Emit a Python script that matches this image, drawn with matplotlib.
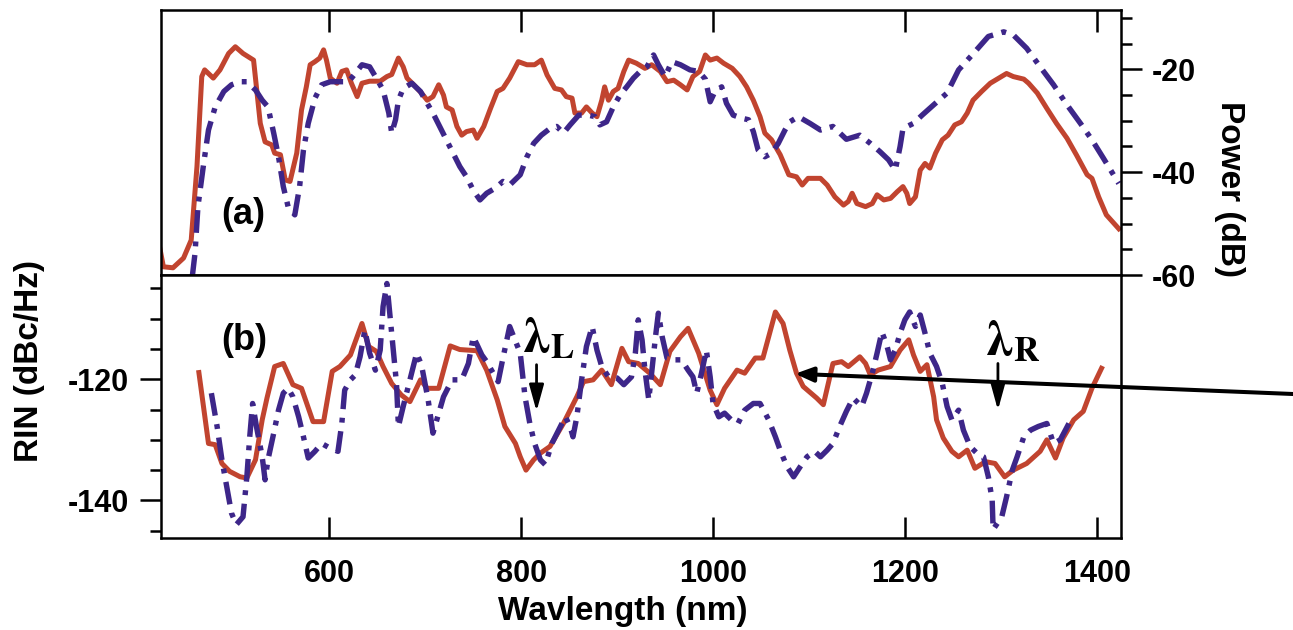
import matplotlib.pyplot as plt
from matplotlib.ticker import MultipleLocator

# (a) optical power spectra
wl_a_red = [423, 427, 437, 448, 456, 462, 467, 470, 479, 486, 495, 502, 510, 521, 524, 528,
            533, 540, 543, 549, 554, 559, 566, 571, 576, 580, 585, 590, 594, 597, 601, 608,
            613, 618, 623, 629, 634, 642, 653, 660, 665, 672, 677, 681, 688, 696, 702, 708,
            714, 719, 722, 728, 733, 738, 743, 750, 754, 761, 768, 775, 781, 788, 797, 806,
            814, 821, 827, 835, 842, 847, 853, 856, 863, 868, 874, 879, 884, 887, 891, 896,
            901, 907, 912, 920, 929, 936, 945, 952, 959, 966, 973, 979, 986, 992, 997, 1004,
            1011, 1020, 1028, 1035, 1042, 1049, 1054, 1061, 1070, 1079, 1087, 1093, 1099, 1112,
            1119, 1127, 1136, 1141, 1145, 1150, 1159, 1166, 1171, 1178, 1185, 1192, 1198, 1202,
            1205, 1211, 1216, 1221, 1226, 1232, 1239, 1245, 1252, 1259, 1265, 1271, 1280, 1289,
            1298, 1306, 1313, 1324, 1329, 1338, 1348, 1358, 1369, 1379, 1390, 1395, 1402, 1410,
            1423]
pow_a_red = [-54.5, -58.4, -58.6, -56.7, -53.2, -38.9, -21.4, -20.1, -21.7, -20.1, -16.9, -15.6,
             -16.9, -18.2, -23.4, -30.5, -34.1, -34.7, -36.3, -36.6, -41.5, -41.8, -36.3, -27.9,
             -23.4, -19.1, -18.5, -17.8, -16.2, -18.2, -21.7, -22.7, -20.4, -20.1, -22.7, -25.3,
             -22.7, -22.3, -22.3, -21.4, -21.0, -17.8, -19.5, -21.7, -23.0, -24.6, -26.0, -25.3,
             -23.0, -25.0, -27.3, -27.9, -31.1, -32.8, -32.1, -31.8, -33.4, -31.1, -27.6, -24.3,
             -23.7, -21.7, -18.5, -19.1, -19.1, -18.2, -21.1, -23.7, -24.0, -25.3, -25.6, -28.5,
             -28.5, -27.3, -28.5, -29.2, -26.0, -23.4, -26.0, -24.3, -23.7, -20.4, -18.2, -18.8,
             -19.8, -19.1, -20.4, -22.4, -22.1, -23.0, -24.0, -21.4, -20.4, -17.2, -18.2, -17.8,
             -18.8, -19.8, -21.4, -23.4, -26.0, -29.2, -32.4, -33.7, -36.6, -40.5, -40.9, -42.5,
             -41.2, -41.2, -42.5, -44.8, -46.4, -45.7, -44.1, -46.1, -46.7, -46.1, -44.4, -45.4,
             -45.1, -43.8, -42.8, -44.1, -46.1, -44.8, -39.6, -38.3, -39.2, -36.3, -33.7, -32.8,
             -30.8, -30.2, -28.5, -26.0, -24.3, -22.7, -21.7, -20.8, -21.4, -21.9, -22.7, -24.6,
             -27.6, -30.5, -33.4, -36.7, -40.5, -41.2, -44.8, -48.3, -51.0]

wl_a_blue = [457, 460, 463, 469, 474, 481, 490, 498, 507, 514, 523, 530, 536, 542, 547, 552,
             557, 564, 569, 573, 578, 585, 592, 601, 611, 620, 627, 634, 642, 649, 656, 662,
             665, 669, 672, 677, 686, 695, 702, 708, 715, 722, 729, 736, 743, 750, 757, 764,
             773, 781, 788, 799, 806, 813, 821, 830, 837, 844, 851, 860, 870, 877, 882, 889,
             896, 903, 910, 917, 924, 931, 938, 943, 950, 957, 966, 976, 985, 992, 997, 1002,
             1009, 1014, 1021, 1030, 1037, 1042, 1047, 1054, 1061, 1068, 1075, 1080, 1089, 1101,
             1112, 1125, 1139, 1153, 1164, 1174, 1183, 1190, 1195, 1198, 1209, 1218, 1230, 1244,
             1256, 1270, 1287, 1303, 1313, 1327, 1341, 1355, 1369, 1383, 1395, 1407, 1423]
pow_a_blue = [-60.5, -55.7, -46.7, -38.3, -31.8, -27.3, -24.3, -23.0, -22.4, -22.4, -24.0, -26.0,
              -27.3, -32.4, -37.0, -42.8, -46.7, -48.3, -42.8, -35.7, -30.5, -25.6, -23.0, -22.4,
              -22.4, -22.4, -20.8, -19.1, -19.5, -21.7, -24.0, -28.5, -32.4, -29.8, -26.0, -23.7,
              -22.7, -24.3, -26.6, -28.5, -31.1, -33.7, -36.3, -38.9, -40.9, -43.5, -45.4, -44.1,
              -43.1, -41.8, -42.5, -40.5, -37.0, -34.4, -32.8, -31.5, -31.1, -32.4, -30.8, -28.9,
              -28.9, -29.2, -30.8, -30.2, -27.3, -25.0, -23.4, -21.7, -20.4, -19.5, -17.2, -19.1,
              -21.4, -18.5, -19.1, -20.1, -20.4, -21.9, -26.3, -24.3, -23.4, -26.6, -28.9, -29.5,
              -29.8, -32.1, -35.7, -37.0, -36.3, -34.4, -31.8, -30.2, -29.2, -30.5, -31.8, -31.1,
              -33.6, -32.8, -34.4, -36.0, -37.6, -39.6, -35.0, -31.5, -30.5, -28.9, -26.9, -24.6,
              -20.1, -17.2, -13.6, -12.7, -13.3, -15.9, -19.5, -23.0, -26.9, -30.5, -33.7, -37.3,
              -42.2]

# (b) relative intensity noise
wl_b_red = [464, 474, 481, 488, 496, 507, 514, 523, 530, 535, 543, 552, 562, 571, 583, 594,
            603, 611, 622, 634, 641, 649, 656, 665, 675, 684, 695, 702, 714, 726, 736, 754,
            764, 775, 783, 794, 799, 805, 813, 820, 830, 844, 858, 865, 875, 884, 894, 905,
            912, 922, 934, 945, 955, 966, 974, 985, 997, 1004, 1012, 1025, 1033, 1044, 1052,
            1058, 1065, 1073, 1080, 1087, 1094, 1108, 1115, 1125, 1134, 1141, 1153, 1159, 1164,
            1172, 1185, 1195, 1204, 1209, 1216, 1223, 1230, 1233, 1240, 1249, 1256, 1265, 1273,
            1284, 1294, 1304, 1313, 1327, 1341, 1348, 1357, 1365, 1376, 1386, 1395, 1405]
rin_b_red = [-118.9, -130.6, -130.8, -133.9, -135.2, -136.1, -136.3, -133.3, -126.7, -123.1,
             -117.9, -117.4, -120.9, -121.5, -127.0, -127.0, -118.7, -117.9, -116.0, -110.8,
             -114.6, -115.4, -117.9, -120.7, -122.6, -123.7, -120.1, -121.5, -121.5, -114.5,
             -115.1, -115.3, -118.5, -123.4, -127.8, -130.6, -132.8, -135.0, -133.3, -132.2,
             -131.1, -127.3, -122.9, -120.4, -120.1, -118.5, -120.9, -114.9, -117.1, -117.4,
             -119.0, -120.9, -115.4, -113.0, -111.6, -115.7, -121.8, -124.2, -121.5, -118.5,
             -119.0, -116.5, -116.5, -113.0, -108.9, -110.8, -115.2, -119.0, -121.2, -123.1,
             -124.2, -117.4, -117.1, -117.9, -116.3, -117.4, -119.3, -118.5, -117.9, -115.2,
             -113.5, -116.0, -118.7, -117.6, -122.9, -126.7, -129.7, -131.9, -132.8, -131.7,
             -134.7, -133.6, -133.9, -136.1, -135.0, -133.9, -131.9, -130.0, -133.0, -129.7,
             -126.7, -125.3, -121.5, -118.2]

wl_b_blue = [477, 483, 488, 493, 498, 503, 510, 514, 517, 520, 524, 530, 533, 536, 542, 547,
             552, 557, 562, 568, 573, 578, 585, 592, 601, 609, 613, 616, 622, 627, 632, 637,
             642, 648, 653, 656, 660, 663, 666, 670, 672, 677, 684, 691, 696, 703, 708, 714,
             719, 728, 738, 745, 750, 754, 759, 764, 769, 776, 781, 788, 795, 799, 804, 809,
             814, 820, 825, 832, 839, 846, 851, 854, 858, 863, 868, 874, 879, 884, 891, 900,
             907, 915, 919, 922, 926, 929, 933, 936, 940, 943, 947, 952, 959, 967, 974, 979,
             983, 988, 993, 997, 1000, 1006, 1012, 1019, 1026, 1033, 1042, 1049, 1058, 1065,
             1070, 1077, 1084, 1091, 1098, 1106, 1112, 1119, 1125, 1132, 1139, 1146, 1155, 1160,
             1166, 1171, 1176, 1181, 1185, 1190, 1195, 1200, 1205, 1211, 1216, 1221, 1226, 1233,
             1239, 1244, 1249, 1256, 1261, 1268, 1275, 1282, 1287, 1291, 1292, 1301, 1306, 1312,
             1317, 1324, 1331, 1339, 1348, 1355, 1362, 1371]
rin_b_blue = [-122.3, -127.8, -133.3, -137.7, -142.1, -144.0, -142.7, -136.1, -129.5, -124.0,
              -127.8, -132.8, -136.6, -133.3, -128.9, -125.1, -122.3, -121.5, -122.9, -126.2,
              -129.5, -133.0, -131.9, -130.6, -131.4, -131.9, -127.3, -121.8, -120.1, -119.3,
              -116.3, -111.9, -115.7, -118.5, -115.2, -108.0, -104.2, -109.1, -114.1, -120.7,
              -127.8, -124.5, -120.1, -115.7, -117.6, -123.4, -128.9, -125.6, -122.9, -120.1,
              -120.1, -117.4, -113.0, -114.3, -116.0, -117.1, -118.5, -120.4, -116.5, -111.3,
              -114.1, -115.7, -122.9, -127.3, -130.6, -133.3, -134.1, -130.6, -128.4, -126.2,
              -127.8, -129.5, -126.2, -120.1, -114.6, -111.3, -115.2, -117.9, -119.6, -119.8,
              -120.9, -119.6, -115.7, -110.2, -113.5, -118.5, -123.4, -119.0, -113.0, -109.1,
              -113.0, -116.5, -116.8, -116.8, -118.5, -119.6, -122.3, -119.0, -115.2, -119.6,
              -124.0, -126.2, -125.6, -126.7, -127.3, -125.1, -124.0, -124.0, -126.7, -129.5,
              -131.7, -134.4, -136.1, -134.4, -132.8, -131.9, -132.8, -131.7, -130.6, -127.8,
              -125.3, -123.1, -124.5, -122.3, -119.0, -115.7, -112.2, -114.3, -116.8, -115.2,
              -112.4, -110.2, -108.9, -111.3, -109.4, -112.4, -115.7, -117.9, -120.7, -124.5,
              -126.7, -125.1, -128.4, -131.1, -132.2, -132.8, -136.1, -139.9, -144.8, -142.7,
              -139.4, -135.0, -132.8, -129.5, -128.4, -127.8, -127.3, -130.6, -130.0, -127.3]

x_ticks = [600, 800, 1000, 1200, 1400]
power_ticks = [-60, -40, -20]
rin_ticks = [-140, -120]

plt.rcParams['font.family'] = ['Liberation Sans', 'DejaVu Sans']
plt.rcParams['font.weight'] = 'bold'
plt.rcParams['axes.labelweight'] = 'bold'
plt.rcParams['axes.unicode_minus'] = False
plt.rcParams['mathtext.fontset'] = 'stix'

RED = '#C1442F'
BLUE = '#3D2689'
DASHDOT = (4.2, 1.6, 0.9, 1.6)

W, H = 1293, 630
fig = plt.figure(figsize=(W / 100, H / 100), dpi=100)
ax_a = fig.add_axes([161 / W, 1 - 275 / H, 960 / W, 265 / H])
ax_b = fig.add_axes([161 / W, 1 - 538 / H, 960 / W, 263 / H])

for ax in (ax_a, ax_b):
    ax.set_xlim(424.5, 1425.3)
    ax.set_xticks(x_ticks)
    for sp in ax.spines.values():
        sp.set_linewidth(1.8)

# --- panel (a): power ---
ax_a.plot(wl_a_red, pow_a_red, color=RED, lw=3.6, solid_joinstyle='round')
ax_a.plot(wl_a_blue, pow_a_blue, color=BLUE, lw=3.9, dashes=DASHDOT)
ax_a.set_ylim(-60, -8.45)
ax_a.set_yticks(power_ticks)
ax_a.yaxis.set_minor_locator(MultipleLocator(5))
ax_a.tick_params(axis='x', which='both', bottom=False, top=True, labelbottom=False,
                 direction='in', length=16, width=1.8)
ax_a.tick_params(axis='y', which='both', left=False, right=True, labelleft=False,
                 labelright=True, direction='out', width=1.8)
ax_a.tick_params(axis='y', which='major', length=15, pad=7, labelsize=22)
ax_a.tick_params(axis='y', which='minor', length=8)
ax_a.yaxis.set_label_position('right')
ax_a.set_ylabel('Power (dB)', fontsize=24, rotation=270, va='center', ha='center')
ax_a.yaxis.set_label_coords(1.1125, 0.3245)
ax_a.text(510.5, -48.2, '(a)', fontsize=26, ha='center', va='center')

# --- panel (b): RIN ---
ax_b.plot(wl_b_red, rin_b_red, color=RED, lw=3.6, solid_joinstyle='round')
ax_b.plot(wl_b_blue, rin_b_blue, color=BLUE, lw=3.9, dashes=DASHDOT)
ax_b.set_ylim(-146.2, -102.8)
ax_b.set_yticks(rin_ticks)
ax_b.yaxis.set_minor_locator(MultipleLocator(5))
ax_b.tick_params(axis='x', which='both', bottom=True, top=False, direction='in',
                 length=15, width=1.8, pad=15, labelsize=22)
ax_b.tick_params(axis='y', which='both', left=True, right=False, direction='out', width=1.8)
ax_b.tick_params(axis='y', which='major', length=15, pad=8, labelsize=22)
ax_b.tick_params(axis='y', which='minor', length=8)
ax_b.set_ylabel('RIN (dBc/Hz)', fontsize=24, rotation=90, va='center', ha='center')
ax_b.yaxis.set_label_coords(-0.1365, 0.673)
ax_b.set_xlabel('Wavlength (nm)', fontsize=24, va='center', ha='center')
ax_b.xaxis.set_label_coords(0.481, -0.280)
ax_b.text(511, -113.6, '(b)', fontsize=26, ha='center', va='center')

# pump wavelength markers
small_head = dict(arrowstyle='-|>,head_length=0.8,head_width=0.22', mutation_scale=20,
                  color='black', lw=2.0, shrinkA=0, shrinkB=0)
ax_b.annotate('', xy=(816, -125.3), xytext=(816, -117.6), arrowprops=small_head)
ax_b.annotate('', xy=(1297, -125.1), xytext=(1297, -117.4), arrowprops=small_head)
ax_b.text(801, -115.5, r'$\mathrm{\lambda}_{\mathbf{L}}$', fontsize=36, ha='left', va='baseline')
ax_b.text(1283, -116.0, r'$\mathrm{\lambda}_{\mathbf{R}}$', fontsize=36, ha='left', va='baseline')

# long pointer from the right edge
ax_b.annotate('', xy=(1085.5, -119.1), xytext=(W, H - 394), textcoords='figure pixels',
              annotation_clip=False,
              arrowprops=dict(arrowstyle='-|>,head_length=0.54,head_width=0.22',
                              mutation_scale=20, color='black', lw=2.9,
                              shrinkA=0, shrinkB=0))

fig.savefig('out.png', dpi=100)
